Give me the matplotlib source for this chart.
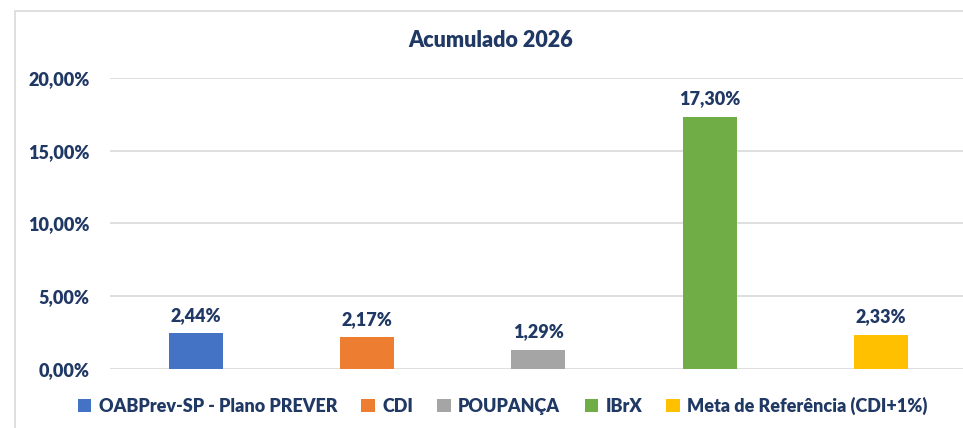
import matplotlib.pyplot as plt
from matplotlib.patches import Patch, Rectangle
from matplotlib.ticker import FuncFormatter

categories = ['OABPrev-SP - Plano PREVER', 'CDI', 'POUPANÇA', 'IBrX', 'Meta de Referência (CDI+1%)']
values = [2.44, 2.17, 1.29, 17.30, 2.33]
colors = ['#4472C4', '#ED7D31', '#A5A5A5', '#70AD47', '#FFC000']
yticks = [0, 5, 10, 15, 20]

navy = '#203864'
wt = 'heavy'
plt.rcParams['font.family'] = ['Lato', 'DejaVu Sans']
plt.rcParams['font.weight'] = wt

fig = plt.figure(figsize=(9.63, 4.28), dpi=100)
ax = fig.add_axes([0.1146, 0.1379, 0.8891, 0.6799])

x = list(range(len(categories)))
bars = ax.bar(x, values, width=0.315, color=colors, zorder=3)
ax.bar_label(bars, labels=[f'{v:.2f}%'.replace('.', ',') for v in values],
             padding=7, fontsize=13, fontweight=wt, color=navy)

ax.set_xlim(-0.5, len(categories) - 0.5)
ax.set_ylim(0, 20)
ax.set_yticks(yticks)
ax.yaxis.set_major_formatter(FuncFormatter(lambda v, p: f'{v:.2f}%'.replace('.', ',')))
ax.set_xticks([])
ax.tick_params(axis='y', length=0, pad=15, labelsize=13, labelcolor=navy)
for lbl in ax.get_yticklabels():
    lbl.set_fontweight(wt)
ax.grid(axis='y', color='#D9D9D9', linewidth=1.2, zorder=0)
for s in ax.spines.values():
    s.set_visible(False)

fig.text(0.509, 0.905, 'Acumulado 2026', ha='center', va='center',
         fontsize=15.5, fontweight=wt, color=navy)

handles = [Patch(facecolor=c) for c in colors]
leg = fig.legend(handles, categories, loc='center', bbox_to_anchor=(0.522, 0.052),
                 ncol=5, frameon=False, handlelength=0.75, handleheight=0.75,
                 handletextpad=0.4, columnspacing=1.35, fontsize=13)
for t in leg.get_texts():
    t.set_color(navy)
    t.set_fontweight(wt)

fig.patches.append(Rectangle((15 / 963, -0.1), 1.2, 1 - 11 / 428 + 0.1,
                             transform=fig.transFigure, fill=False,
                             edgecolor='#D9D9D9', linewidth=1.2))

fig.savefig('out.png', dpi=100)
